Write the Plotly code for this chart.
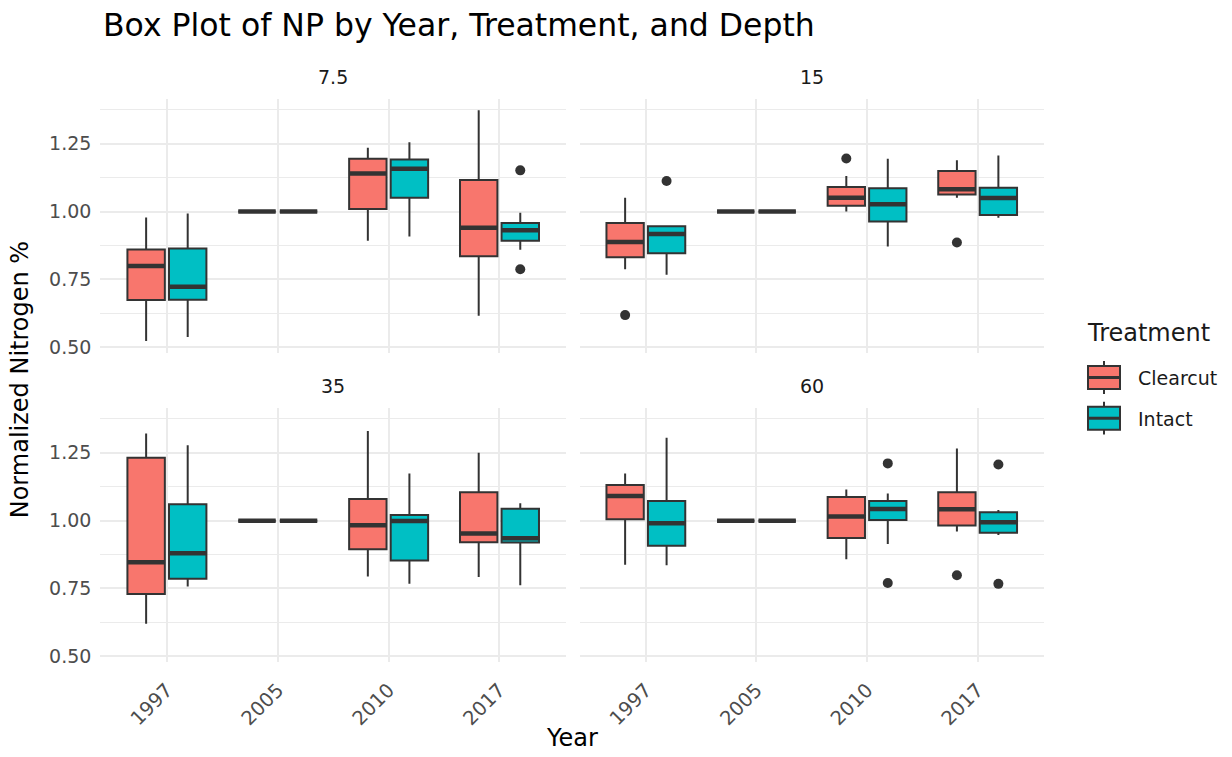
import plotly.graph_objects as go

# ---- data -------------------------------------------------------------
years = ["1997", "2005", "2010", "2017"]
depths = ["7.5", "15", "35", "60"]
treatments = ["Clearcut", "Intact"]

# Box statistics per depth (rows, in `depths` order) and year (columns)
clearcut_low = [[0.522, 1.0, 0.892, 0.616],
                [0.787, 1.0, 1.000, 1.051],
                [0.620, 1.0, 0.794, 0.792],
                [0.837, 1.0, 0.858, 0.960]]
clearcut_q1 = [[0.674, 1.0, 1.009, 0.835],
               [0.831, 1.0, 1.021, 1.063],
               [0.730, 1.0, 0.895, 0.920],
               [1.005, 1.0, 0.936, 0.982]]
clearcut_med = [[0.799, 1.0, 1.140, 0.940],
                [0.888, 1.0, 1.051, 1.082],
                [0.847, 1.0, 0.983, 0.953],
                [1.091, 1.0, 1.015, 1.042]]
clearcut_q3 = [[0.860, 1.0, 1.195, 1.116],
               [0.958, 1.0, 1.091, 1.150],
               [1.232, 1.0, 1.080, 1.105],
               [1.131, 1.0, 1.087, 1.105]]
clearcut_high = [[0.978, 1.0, 1.235, 1.374],
                 [1.051, 1.0, 1.131, 1.189],
                 [1.321, 1.0, 1.330, 1.250],
                 [1.174, 1.0, 1.115, 1.266]]

intact_low = [[0.537, 1.0, 0.908, 0.859],
              [0.767, 1.0, 0.871, 0.977],
              [0.757, 1.0, 0.767, 0.762],
              [0.836, 1.0, 0.914, 0.947]]
intact_q1 = [[0.675, 1.0, 1.051, 0.892],
             [0.846, 1.0, 0.963, 0.987],
             [0.786, 1.0, 0.853, 0.919],
             [0.907, 1.0, 1.002, 0.955]]
intact_med = [[0.723, 1.0, 1.158, 0.931],
              [0.917, 1.0, 1.027, 1.050],
              [0.880, 1.0, 0.999, 0.935],
              [0.990, 1.0, 1.043, 0.994]]
intact_q3 = [[0.864, 1.0, 1.192, 0.958],
             [0.946, 1.0, 1.086, 1.088],
             [1.060, 1.0, 1.021, 1.044],
             [1.072, 1.0, 1.072, 1.031]]
intact_high = [[0.993, 1.0, 1.256, 0.996],
               [0.948, 1.0, 1.195, 1.207],
               [1.278, 1.0, 1.174, 1.064],
               [1.305, 1.0, 1.100, 1.039]]

# Outlying observations: (depth, treatment, year, value)
outliers = [("7.5", "Intact", "2017", 1.152), ("7.5", "Intact", "2017", 0.787),
            ("15", "Clearcut", "1997", 0.618), ("15", "Intact", "1997", 1.113),
            ("15", "Clearcut", "2010", 1.196), ("15", "Clearcut", "2017", 0.886),
            ("60", "Intact", "2010", 1.211), ("60", "Intact", "2010", 0.770),
            ("60", "Clearcut", "2017", 0.799), ("60", "Intact", "2017", 1.207),
            ("60", "Intact", "2017", 0.767)]

y_ticks = [0.50, 0.75, 1.00, 1.25]
y_tick_text = ["0.50", "0.75", "1.00", "1.25"]

# ---- styling ----------------------------------------------------------
FONT = "DejaVu Sans"
W, H = 1232, 757
fills = {"Clearcut": "#F8766D", "Intact": "#00BFC4"}
stats = {
    "Clearcut": (clearcut_low, clearcut_q1, clearcut_med, clearcut_q3, clearcut_high),
    "Intact": (intact_low, intact_q1, intact_med, intact_q3, intact_high),
}
DODGE = 0.1875          # half of dodge width 0.75
BOX_W = 0.3375          # box width in category units
EDGE = "#333333"
GRID = "#EBEBEB"

# panel pixel boxes: (left, right, top, bottom)
panels = [(100.4, 566.0, 99.3, 355.0), (579.5, 1044.0, 99.3, 355.0),
          (100.4, 566.0, 410.3, 666.3), (579.5, 1044.0, 410.3, 666.3)]

all_vals = [v for t in stats.values() for arr in t for row in arr for v in row]
all_vals += [o[3] for o in outliers]
lo, hi = min(all_vals), max(all_vals)
pad = (hi - lo) * 0.05
y_range = [lo - pad, hi + pad]

fig = go.Figure()
for p, depth in enumerate(depths):
    suffix = "" if p == 0 else str(p + 1)
    xa, ya = "x" + suffix, "y" + suffix
    med_x, med_y = [], []
    for tr in treatments:
        low, q1, med, q3, high = (arr[p] for arr in stats[tr])
        offset = -DODGE if tr == "Clearcut" else DODGE
        xs = [i + 1 + offset for i in range(len(years))]
        fig.add_trace(go.Box(
            x=xs, q1=q1, median=med, q3=q3, lowerfence=low, upperfence=high,
            width=BOX_W, whiskerwidth=0, boxpoints=False,
            fillcolor=fills[tr], line=dict(color=EDGE, width=2),
            name=tr, showlegend=False,
            xaxis=xa, yaxis=ya, hoverinfo="skip"))
        for x, m in zip(xs, med):
            med_x += [x - BOX_W / 2, x + BOX_W / 2, None]
            med_y += [m, m, None]
    # thicker median bars
    fig.add_trace(go.Scatter(x=med_x, y=med_y, mode="lines",
                             line=dict(color=EDGE, width=4.5),
                             showlegend=False, hoverinfo="skip",
                             xaxis=xa, yaxis=ya))
    # outliers
    ox, oy = [], []
    for d, tr, yr, v in outliers:
        if d == depth:
            offset = -DODGE if tr == "Clearcut" else DODGE
            ox.append(years.index(yr) + 1 + offset)
            oy.append(v)
    if ox:
        fig.add_trace(go.Scatter(x=ox, y=oy, mode="markers",
                                 marker=dict(color=EDGE, size=10),
                                 showlegend=False, hoverinfo="skip",
                                 xaxis=xa, yaxis=ya))

layout = dict(
    width=W, height=H, margin=dict(l=0, r=0, t=0, b=0),
    plot_bgcolor="white", paper_bgcolor="white",
    font=dict(family=FONT, color="#1A1A1A"),
    showlegend=False,
)

for p, (l, r, t, b) in enumerate(panels):
    suffix = "" if p == 0 else str(p + 1)
    bottom_row = p >= 2
    left_col = p % 2 == 0
    layout["xaxis" + suffix] = dict(
        domain=[l / W, r / W], anchor="y" + suffix, range=[0.4, 4.6],
        tickmode="array", tickvals=[1, 2, 3, 4], ticktext=years,
        showticklabels=bottom_row, tickangle=-45,
        tickfont=dict(size=19.5, color="#4D4D4D"),
        ticks="outside", ticklen=8, tickcolor="rgba(0,0,0,0)",
        showgrid=True, gridcolor=GRID, gridwidth=2,
        zeroline=False, showline=False)
    layout["yaxis" + suffix] = dict(
        domain=[1 - b / H, 1 - t / H], anchor="x" + suffix, range=y_range,
        tickmode="array", tickvals=y_ticks, ticktext=y_tick_text,
        showticklabels=left_col, tickfont=dict(size=19, color="#4D4D4D"),
        ticklabelstandoff=8,
        showgrid=True, gridcolor=GRID, gridwidth=2,
        minor=dict(tickvals=[0.625, 0.875, 1.125, 1.375], showgrid=True,
                   gridcolor=GRID, gridwidth=1.2),
        zeroline=False, showline=False, ticks="")

annotations = [
    dict(text="Box Plot of NP by Year, Treatment, and Depth", x=101 / W, y=1 - 25 / H,
         xref="paper", yref="paper", xanchor="left", yanchor="middle",
         showarrow=False, font=dict(size=31.5, color="black")),
    dict(text="Year", x=(100.4 + 1044) / 2 / W, y=1 - 743 / H,
         xref="paper", yref="paper", xanchor="center", yanchor="middle",
         showarrow=False, font=dict(size=24, color="black")),
    dict(text="Normalized Nitrogen %", x=20 / W, y=1 - ((99.3 + 666.3) / 2) / H,
         xref="paper", yref="paper", xanchor="center", yanchor="middle",
         textangle=-90, showarrow=False, font=dict(size=24, color="black")),
    dict(text="Treatment", x=1085 / W, y=1 - 335 / H,
         xref="paper", yref="paper", xanchor="left", yanchor="middle",
         showarrow=False, font=dict(size=24, color="#1A1A1A")),
]
for p, (l, r, t, b) in enumerate(panels):
    annotations.append(dict(
        text=depths[p], x=(l + r) / 2 / W, y=1 - (t - 22) / H,
        xref="paper", yref="paper", xanchor="center", yanchor="middle",
        showarrow=False, font=dict(size=19, color="#1A1A1A")))

# legend keys: a small box glyph per treatment with its label
shapes = []
key_l, key_r = 1088, 1120
for k, tr in enumerate(treatments):
    cy = 380 + 41 * k
    top, bot = cy - 11.5, cy + 11.5
    mid = (key_l + key_r) / 2
    shapes.append(dict(type="line", xref="paper", yref="paper",
                       x0=mid / W, x1=mid / W, y0=1 - (top - 5) / H, y1=1 - (bot + 5) / H,
                       line=dict(color=EDGE, width=2)))
    shapes.append(dict(type="rect", xref="paper", yref="paper",
                       x0=key_l / W, x1=key_r / W, y0=1 - top / H, y1=1 - bot / H,
                       fillcolor=fills[tr], line=dict(color=EDGE, width=2)))
    shapes.append(dict(type="line", xref="paper", yref="paper",
                       x0=key_l / W, x1=key_r / W, y0=1 - cy / H, y1=1 - cy / H,
                       line=dict(color=EDGE, width=3)))
    annotations.append(dict(
        text=tr, x=1136 / W, y=1 - (cy + 1) / H, xref="paper", yref="paper",
        xanchor="left", yanchor="middle", showarrow=False,
        font=dict(size=19, color="#1A1A1A")))

layout["annotations"] = annotations
layout["shapes"] = shapes

fig.update_layout(**layout)
fig.write_html("out.html")
